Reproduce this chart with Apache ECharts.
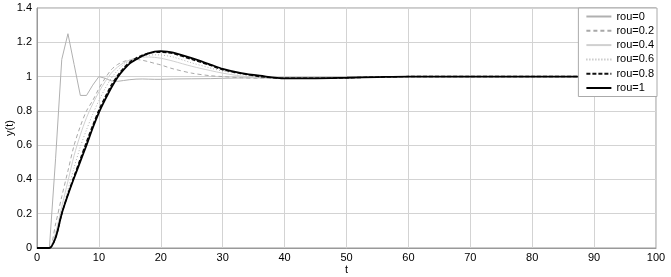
<!DOCTYPE html>
<html>
<head>
<meta charset="utf-8">
<script src="https://cdn.jsdelivr.net/npm/echarts@6/dist/echarts.min.js"></script>
<style>
html,body{margin:0;padding:0;background:#fff;}
#chart{width:671px;height:277px;}
</style>
</head>
<body>
<div id="chart"></div>
<script>
// time samples (t)
var tValues = [0,1,2,3,4,5,6,7,8,9,10,11,12,13,14,15,16,17,18,19,20,21,22,25,28,30,33,36,40,45,50,55,60,70,80,90,100];

var rou0   = [0,0,0,0.52,1.10,1.25,1.07,0.89,0.89,0.95,1.00,0.99,0.975,0.972,0.977,0.982,0.985,0.986,0.985,0.984,0.984,0.985,0.986,0.987,0.988,0.99,0.992,0.994,0.995,0.996,0.997,0.999,1,1,1,1,1];
var rou02  = [0,0,0,0.14,0.30,0.45,0.60,0.71,0.80,0.86,0.93,0.99,1.04,1.07,1.088,1.097,1.10,1.095,1.087,1.077,1.068,1.056,1.045,1.02,1.005,1.0,0.993,0.99,0.99,0.992,0.995,0.998,1,1,1,1,1];
var rou04  = [0,0,0,0.09,0.24,0.39,0.54,0.66,0.76,0.84,0.91,0.97,1.02,1.055,1.08,1.097,1.108,1.113,1.114,1.112,1.107,1.099,1.09,1.06,1.035,1.02,1.003,0.992,0.988,0.99,0.994,0.998,1,1,1,1,1];
var rou06  = [0,0,0,0.07,0.21,0.34,0.47,0.59,0.69,0.78,0.86,0.93,0.99,1.035,1.07,1.093,1.108,1.118,1.124,1.127,1.126,1.121,1.114,1.08,1.05,1.032,1.012,0.997,0.989,0.99,0.993,0.997,1,1,1,1,1];
var rou08  = [0,0,0,0.06,0.20,0.315,0.42,0.52,0.62,0.715,0.805,0.88,0.95,1.005,1.05,1.085,1.108,1.125,1.136,1.141,1.142,1.14,1.134,1.10,1.065,1.04,1.018,1.0,0.99,0.99,0.993,0.997,1,1,1,1,1];
var rou1   = [0,0,0,0.06,0.20,0.31,0.41,0.505,0.60,0.70,0.79,0.865,0.935,0.995,1.04,1.077,1.10,1.12,1.135,1.145,1.148,1.146,1.14,1.107,1.07,1.045,1.02,1.005,0.99,0.99,0.993,0.997,1,1,1,1,1];

var seriesNames = ['rou=0','rou=0.2','rou=0.4','rou=0.6','rou=0.8','rou=1'];
var seriesValues = [rou0, rou02, rou04, rou06, rou08, rou1];

var styles = [
  {color:'#b0b0b0', width:1, type:'solid', smooth:false},
  {color:'#a8a8a8', width:1, type:[4,3], smooth:0.3},
  {color:'#d0d0d0', width:1, type:'solid', smooth:0.3},
  {color:'#b0b0b0', width:1, type:[1,2], smooth:0.3},
  {color:'#111111', width:1.4, type:[4,2], smooth:0.3},
  {color:'#000000', width:1.8, type:'solid', smooth:0.3}
];

function pairs(vals){ return tValues.map(function(t,i){ return [t, vals[i]]; }); }

var series = seriesNames.map(function(n, i){
  var s = styles[i];
  return {
    name: n, type: 'line', symbol: 'none', showSymbol: false,
    smooth: s.smooth,
    data: pairs(seriesValues[i]),
    lineStyle: {color: s.color, width: s.width, type: s.type},
    itemStyle: {color: s.color},
    z: 2 + i
  };
});

var font = 'Liberation Sans, Arial, sans-serif';
var chart = echarts.init(document.getElementById('chart'), null, {renderer:'canvas'});
chart.setOption({
  animation: false,
  backgroundColor: '#fff',
  grid: {left: 37, right: 15, top: 8, bottom: 29, show: true, borderColor: '#999', borderWidth: 1,
         containLabel: false, outerBoundsMode: 'none'},
  xAxis: {
    type: 'value', min: 0, max: 100, interval: 10,
    name: 't', nameLocation: 'middle', nameGap: 16, nameMoveOverlap: false,
    nameTextStyle: {color: '#000', fontSize: 11, fontFamily: font},
    axisLine: {show: true, lineStyle: {color: '#999'}},
    axisTick: {show: false},
    axisLabel: {color: '#000', fontSize: 11, fontFamily: font, margin: 4},
    splitLine: {show: true, lineStyle: {color: '#d3d3d3', width: 1}}
  },
  yAxis: {
    type: 'value', min: 0, max: 1.4, interval: 0.2,
    name: 'y(t)', nameLocation: 'middle', nameGap: 22, nameMoveOverlap: false,
    nameTextStyle: {color: '#000', fontSize: 11, fontFamily: font},
    axisLine: {show: true, lineStyle: {color: '#999'}},
    axisTick: {show: false},
    axisLabel: {color: '#000', fontSize: 11, fontFamily: font, margin: 5},
    splitLine: {show: true, lineStyle: {color: '#d3d3d3', width: 1}}
  },
  legend: {
    orient: 'vertical', right: 14, top: 8,
    backgroundColor: '#fff', borderColor: '#aaa', borderWidth: 1, borderRadius: 0,
    padding: [3, 3, 3, 7], itemGap: 3.3, itemWidth: 25, itemHeight: 11,
    itemStyle: {opacity: 0},
    textStyle: {color: '#000', fontSize: 11, fontFamily: font},
    data: seriesNames,
    z: 20
  },
  series: series
});
</script>
</body>
</html>
